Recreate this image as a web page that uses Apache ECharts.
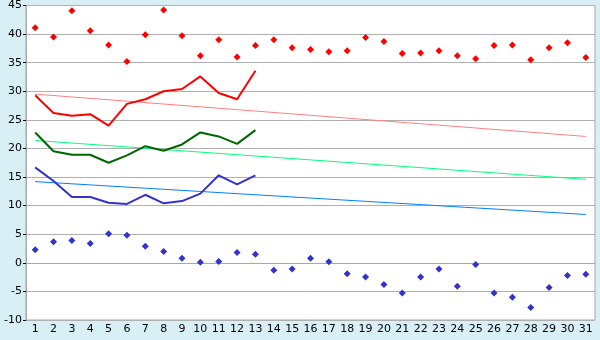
<!DOCTYPE html>
<html><head><meta charset="utf-8">
<script src="https://cdn.jsdelivr.net/npm/echarts@6/dist/echarts.min.js"></script>
<style>html,body{margin:0;padding:0;background:#d9eff6}#c{width:600px;height:340px}</style>
</head><body><div id="c"></div>
<script>
const days = Array.from({length:31},(_,i)=>String(i+1));
const maxPoints = [41.1,39.5,44.1,40.6,38.1,35.2,39.9,44.2,39.7,36.2,39.0,36.0,38.0,39.0,37.6,37.3,36.9,37.1,39.4,38.7,36.6,36.7,37.1,36.2,35.7,38.0,38.1,35.5,37.6,38.5,35.9];
const minPoints = [2.3,3.7,3.9,3.4,5.1,4.8,2.9,2.0,0.8,0.1,0.25,1.8,1.5,-1.3,-1.1,0.8,0.2,-1.9,-2.5,-3.8,-5.3,-2.5,-1.1,-4.1,-0.3,-5.3,-6.0,-7.8,-4.3,-2.2,-2.0];
const redLine = [29.3,26.2,25.7,26.0,24.0,27.8,28.6,30.0,30.4,32.6,29.7,28.6,33.6];
const greenLine = [22.8,19.5,18.9,18.9,17.5,18.8,20.4,19.6,20.7,22.8,22.1,20.8,23.2];
const blueLine = [16.7,14.3,11.5,11.5,10.5,10.3,11.9,10.4,10.8,12.1,15.3,13.7,15.3];
const redTrend = [29.5,22.1];
const greenTrend = [21.4,14.6];
const blueTrend = [14.2,8.45];

const trend = (v)=>[[0,v[0]],[30,v[1]]];
const chart = echarts.init(document.getElementById('c'));
chart.setOption({
  backgroundColor:'#d9eff6',
  animation:false,
  grid:{left:26,right:5,top:5,bottom:20,show:true,backgroundColor:'#ffffff',borderColor:'#a8a8a8',borderWidth:1},
  xAxis:{type:'category',data:days,boundaryGap:true,
    axisLine:{lineStyle:{color:'#a8a8a8'}},
    axisTick:{alignWithLabel:true,length:4,lineStyle:{color:'#000'}},
    axisLabel:{color:'#000',fontFamily:'DejaVu Sans',fontSize:11,margin:4,interval:0},
    splitLine:{show:false}},
  yAxis:{type:'value',min:-10,max:45,interval:5,
    axisLine:{show:true,lineStyle:{color:'#a8a8a8'}},
    axisTick:{show:true,length:3,lineStyle:{color:'#000'}},
    axisLabel:{color:'#000',fontFamily:'DejaVu Sans',fontSize:11,margin:4},
    splitLine:{lineStyle:{color:'#b0b0b0',width:1}}},
  series:[
    {type:'line',data:trend(redTrend),symbol:'none',lineStyle:{color:'#ff8080',width:1}},
    {type:'line',data:trend(greenTrend),symbol:'none',lineStyle:{color:'#00ff80',width:1}},
    {type:'line',data:trend(blueTrend),symbol:'none',lineStyle:{color:'#0080ff',width:1}},
    {type:'line',data:redLine,symbol:'none',lineStyle:{color:'#ff0000',width:2}},
    {type:'line',data:greenLine,symbol:'none',lineStyle:{color:'#006600',width:2}},
    {type:'line',data:blueLine,symbol:'none',lineStyle:{color:'#3333cc',width:2}},
    {type:'scatter',data:maxPoints,symbol:'diamond',symbolSize:7,itemStyle:{color:'#ff0000',opacity:1}},
    {type:'scatter',data:minPoints,symbol:'diamond',symbolSize:7,itemStyle:{color:'#3333cc',opacity:1}}
  ]
});
</script></body></html>
